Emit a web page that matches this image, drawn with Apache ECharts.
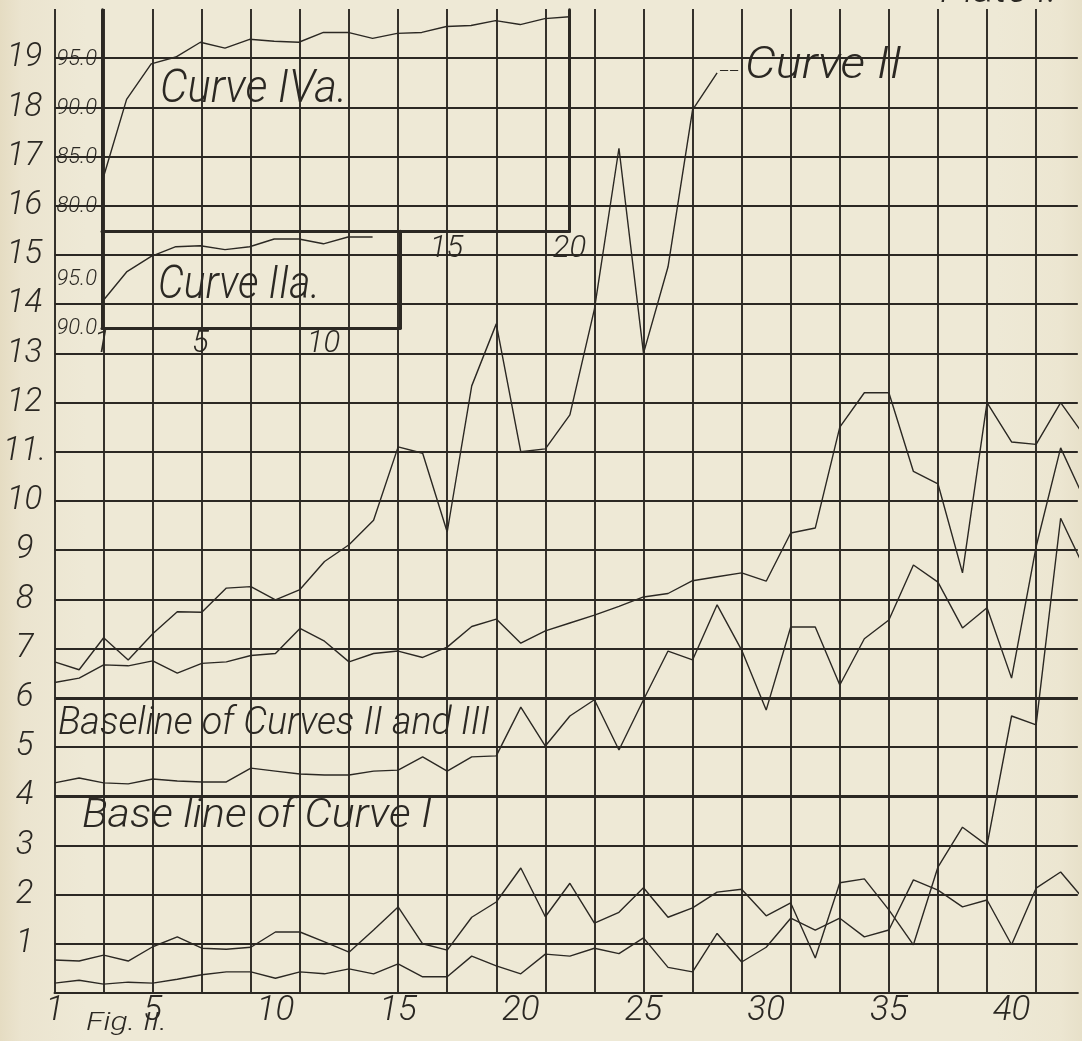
<!DOCTYPE html>
<html>
<head>
<meta charset="utf-8">
<script src="https://cdn.jsdelivr.net/npm/echarts@6/dist/echarts.min.js"></script>
<style>
  html, body { margin: 0; padding: 0; width: 1082px; height: 1041px; overflow: hidden; }
  body { background: linear-gradient(to right, #e5dcc2 0%, #ebe4cf 2%, #eee9d6 8%, #eee9d6 92%, #ece6d1 98%, #e7e0c9 100%); }
  #chart { width: 1082px; height: 1041px; }
</style>
</head>
<body>
<div id="chart"></div>
<script>
// Readings for observations 1, 2, 3 ... (the 43rd reading lies just past the right edge of the sheet)
const curveII = [6.73, 6.57, 7.22, 6.77, 7.30, 7.75, 7.74, 8.23, 8.26, 7.99, 8.20, 8.77, 9.11, 9.61,
  11.10, 10.97, 9.37, 12.34, 13.60, 11.00, 11.06, 11.75, 13.90, 17.17, 13.00, 14.76, 17.95, 18.70];
const curveIII = [6.31, 6.40, 6.67, 6.65, 6.75, 6.50, 6.70, 6.73, 6.86, 6.90, 7.41, 7.15, 6.73, 6.90,
  6.95, 6.82, 7.03, 7.45, 7.60, 7.11, 7.36, 7.52, 7.68, 7.86, 8.05, 8.12, 8.38, 8.46, 8.54, 8.37,
  9.35, 9.45, 11.50, 12.20, 12.20, 10.60, 10.35, 8.54, 12.00, 11.20, 11.15, 12.00, 11.30];
const curveI = [4.27, 4.37, 4.27, 4.25, 4.35, 4.31, 4.29, 4.29, 4.57, 4.51, 4.45, 4.43, 4.43, 4.51,
  4.53, 4.80, 4.51, 4.80, 4.82, 5.81, 5.02, 5.63, 5.96, 4.94, 5.96, 6.95, 6.77, 7.89, 6.97, 5.75,
  7.44, 7.44, 6.26, 7.20, 7.58, 8.70, 8.35, 7.42, 7.83, 6.40, 9.07, 11.08, 10.00];
const lowerCurveA = [0.67, 0.65, 0.77, 0.65, 0.94, 1.14, 0.91, 0.89, 0.93, 1.24, 1.24, 1.04, 0.83, 1.28,
  1.75, 1.00, 0.87, 1.54, 1.85, 2.54, 1.55, 2.23, 1.42, 1.64, 2.14, 1.54, 1.73, 2.05, 2.11, 1.57,
  1.83, 0.71, 2.24, 2.32, 1.69, 0.98, 2.56, 3.37, 3.00, 5.63, 5.45, 9.65, 8.60];
const lowerCurveB = [0.20, 0.26, 0.18, 0.22, 0.20, 0.28, 0.37, 0.43, 0.43, 0.30, 0.43, 0.39, 0.49, 0.39,
  0.59, 0.33, 0.33, 0.75, 0.55, 0.39, 0.79, 0.75, 0.91, 0.80, 1.12, 0.52, 0.43, 1.21, 0.63, 0.93,
  1.52, 1.28, 1.52, 1.14, 1.28, 2.30, 2.09, 1.75, 1.89, 0.98, 2.13, 2.46, 1.87];

// Inset curves (percent scale)
const curveIVa = [82.5, 90.9, 94.5, 95.2, 96.7, 96.1, 97.0, 96.8, 96.7, 97.7, 97.7, 97.1, 97.6, 97.7,
  98.3, 98.4, 98.9, 98.5, 99.1, 99.3];
const curveIIa = [92.7, 95.8, 97.4, 98.4, 98.5, 98.1, 98.4, 99.2, 99.2, 98.7, 99.4, 99.4];

// Tick labels
const xTickLabels = [1, 5, 10, 15, 20, 25, 30, 35, 40];
const yTickLabels = ['', '1', '2', '3', '4', '5', '6', '7', '8', '9', '10', '11.', '12', '13', '14',
  '15', '16', '17', '18', '19', ''];
const ivaXTickLabels = [15, 20];
const ivaYTickLabels = [80, 85, 90, 95];
const iiaXTickLabels = [1, 5, 10];
const iiaYTickLabels = [90, 95];

// ---- drawing ----
const ink = '#2b2823';
const hand = 'Roboto';
const UNIT_X = 24.6;          // pixels per observation
const GRID_LEFT = 52, GRID_TOP = 9, GRID_H = 984;
const X_MAX = 42.7;

const chart = echarts.init(document.getElementById('chart'), null, { renderer: 'canvas' });

const isInt = v => Math.abs(v - Math.round(v)) < 1e-6;
const labelFont = size => ({ fontFamily: hand, fontStyle: 'italic', fontWeight: 300, fontSize: size, color: ink });

function line(name, values, xi, yi, width) {
  return {
    type: 'line', name, xAxisIndex: xi, yAxisIndex: yi,
    data: values.map((v, i) => [i + 1, v]),
    symbol: 'none', showSymbol: false, silent: true, clip: true, animation: false,
    lineStyle: { color: ink, width: width || 1.4 }
  };
}

// grid lines every second observation / every unit; the line at the very top edge is left out
const vLineColors = Array.from({ length: 22 }, (_, i) => i < 21 ? ink : 'rgba(0,0,0,0)');
const hLineColors = Array.from({ length: 21 }, (_, i) => i < 20 ? ink : 'rgba(0,0,0,0)');

const mainW = (X_MAX - 1) * UNIT_X;
const ivaW = 19 * UNIT_X;
const iiaW = 298;

const measure = document.createElement('canvas').getContext('2d');
function handText(text, x, cy, size, width) {
  measure.font = `italic 300 ${size}px ${hand}`;
  const sx = width ? width / measure.measureText(text).width : 1;
  return {
    type: 'text', x, y: cy, scaleX: sx, silent: true, z: 50,
    style: {
      text, fill: ink, font: `italic 300 ${size}px ${hand}`,
      fontFamily: hand, fontStyle: 'italic', fontWeight: 300, fontSize: size,
      textAlign: 'left', align: 'left', textVerticalAlign: 'middle', verticalAlign: 'middle'
    }
  };
}

const option = {
  backgroundColor: 'transparent',
  animation: false,
  grid: [
    { left: GRID_LEFT, top: GRID_TOP, width: mainW, height: GRID_H },
    { left: 102, top: 9.8, width: ivaW, height: 221.4 },
    { left: 102, top: 231.2, width: iiaW, height: 97 }
  ],
  xAxis: [
    { gridIndex: 0, type: 'value', min: 1, max: X_MAX, interval: 1,
      axisLine: { show: true, onZero: false, lineStyle: { color: ink, width: 2.2 } },
      axisTick: { show: false }, splitLine: { show: false },
      axisLabel: Object.assign(labelFont(35), { margin: 1, showMaxLabel: false,
        formatter: v => isInt(v) && xTickLabels.includes(Math.round(v)) ? String(Math.round(v)) : '' }) },
    { gridIndex: 0, type: 'value', min: 0, max: X_MAX - 1, interval: 2, position: 'bottom',
      axisLine: { show: false }, axisTick: { show: false }, axisLabel: { show: false },
      splitLine: { show: true, lineStyle: { color: vLineColors, width: 1.9 } } },
    { gridIndex: 1, type: 'value', min: 1, max: 20, interval: 1,
      axisLine: { show: true, onZero: false, lineStyle: { color: ink, width: 3 } },
      axisTick: { show: false }, splitLine: { show: false },
      axisLabel: Object.assign(labelFont(31), { margin: 3,
        formatter: v => isInt(v) && ivaXTickLabels.includes(Math.round(v)) ? String(Math.round(v)) : '' }) },
    { gridIndex: 2, type: 'value', min: 1, max: 1 + iiaW / UNIT_X, interval: 1,
      axisLine: { show: true, onZero: false, lineStyle: { color: ink, width: 3 } },
      axisTick: { show: false }, splitLine: { show: false },
      axisLabel: Object.assign(labelFont(31), { margin: 1, showMaxLabel: false,
        formatter: v => isInt(v) && iiaXTickLabels.includes(Math.round(v)) ? String(Math.round(v)) : '' }) }
  ],
  yAxis: [
    { gridIndex: 0, type: 'value', min: 0, max: 20, interval: 1,
      axisLine: { show: false, onZero: false }, axisTick: { show: false },
      splitLine: { show: true, lineStyle: { color: hLineColors, width: 1.9 } },
      axisLabel: Object.assign(labelFont(33), { align: 'center', margin: 30,
        formatter: v => yTickLabels[Math.round(v)] || '' }) },
    { gridIndex: 1, type: 'value', min: 77.5, max: 100, interval: 2.5,
      axisLine: { show: true, onZero: false, lineStyle: { color: ink, width: 3 } },
      axisTick: { show: false }, splitLine: { show: false },
      axisLabel: Object.assign(labelFont(22), { margin: 5,
        formatter: v => ivaYTickLabels.includes(v) ? v.toFixed(1) : '' }) },
    { gridIndex: 1, type: 'value', min: 77.5, max: 100, position: 'right',
      axisLine: { show: true, onZero: false, lineStyle: { color: ink, width: 3 } },
      axisTick: { show: false }, splitLine: { show: false }, axisLabel: { show: false } },
    { gridIndex: 2, type: 'value', min: 90, max: 100, interval: 5,
      axisLine: { show: true, onZero: false, lineStyle: { color: ink, width: 3 } },
      axisTick: { show: false }, splitLine: { show: false },
      axisLabel: Object.assign(labelFont(22), { margin: 5,
        formatter: v => iiaYTickLabels.includes(v) ? v.toFixed(1) : '' }) },
    { gridIndex: 2, type: 'value', min: 90, max: 100, position: 'right',
      axisLine: { show: true, onZero: false, lineStyle: { color: ink, width: 3 } },
      axisTick: { show: false }, splitLine: { show: false }, axisLabel: { show: false } }
  ],
  series: [
    Object.assign(line('Curve III', curveIII, 0, 0), {
      markLine: {
        silent: true, symbol: ['none', 'none'], label: { show: false }, animation: false,
        lineStyle: { color: ink, width: 2.8, type: 'solid' },
        data: [{ yAxis: 6 }, { yAxis: 4 }]
      }
    }),
    line('Curve II', curveII, 0, 0),
    line('Curve I', curveI, 0, 0),
    line('Lower curve A', lowerCurveA, 0, 0),
    line('Lower curve B', lowerCurveB, 0, 0),
    line('Curve IVa', curveIVa, 2, 1),
    line('Curve IIa', curveIIa, 3, 3)
  ],
  graphic: [
    handText('Curve IVa.', 160, 90, 46, 187),
    handText('Curve IIa.', 158, 286, 46, 162),
    handText('--', 719, 72, 16, 20),
    handText('Curve II', 745, 67, 44, 157),
    handText('Baseline of Curves II and III', 58, 724, 38, 432),
    handText('Base line of Curve I', 82, 817, 40, 350),
    handText('Fig. II.', 86, 1023, 26, 81),
    handText('Plate I.', 940, -8, 40, 117)
  ]
};

chart.setOption(option);
</script>
</body>
</html>
